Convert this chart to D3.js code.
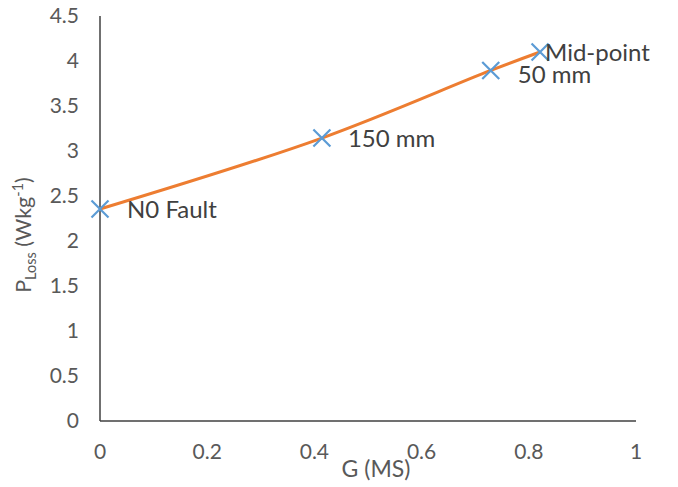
<!DOCTYPE html>
<html><head><meta charset="utf-8">
<script src="https://cdn.jsdelivr.net/npm/d3@7"></script>
<style>body{margin:0;background:#fff}svg{display:block}text{font-family:Lato,"Open Sans",sans-serif}</style>
</head><body>
<script>
const labels = ["N0 Fault", "150 mm", "50 mm", "Mid-point"];
const gValues = [0, 0.414, 0.729, 0.821];
const pLoss = [2.355, 3.144, 3.895, 4.10];
const xTicks = [0, 0.2, 0.4, 0.6, 0.8, 1];
const yTicks = [0, 0.5, 1, 1.5, 2, 2.5, 3, 3.5, 4, 4.5];

const W = 678, H = 487;
const svg = d3.select("body").append("svg").attr("width", W).attr("height", H);
const x = d3.scaleLinear().domain([0, 1]).range([100, 636]);
const y = d3.scaleLinear().domain([0, 4.5]).range([421, 16]);
const txt = "#595959";

// axes lines
svg.append("line").attr("x1", x(0)).attr("x2", x(0)).attr("y1", y(4.5)).attr("y2", y(0)).attr("stroke", "#404040").attr("stroke-width", 1.5);
svg.append("line").attr("x1", x(0)).attr("x2", x(1)).attr("y1", y(0)).attr("y2", y(0)).attr("stroke", "#404040").attr("stroke-width", 1.5);

// tick labels
svg.append("g").selectAll("text").data(yTicks).join("text")
  .attr("x", 79).attr("y", d => y(d)).attr("dy", "0.35em").attr("text-anchor", "end")
  .attr("font-size", 21).attr("fill", txt).text(d => d);
svg.append("g").selectAll("text").data(xTicks).join("text")
  .attr("x", d => x(d)).attr("y", 452).attr("dy", "0.35em").attr("text-anchor", "middle")
  .attr("font-size", 21).attr("fill", txt).text(d => d);

// axis titles
svg.append("text").attr("x", 376).attr("y", 477).attr("text-anchor", "middle")
  .attr("font-size", 23).attr("fill", txt).text("G (MS)");
const yt = svg.append("text").attr("transform", "translate(31,235) rotate(-90)")
  .attr("text-anchor", "middle").attr("font-size", 21.5).attr("fill", txt);
yt.append("tspan").text("P");
yt.append("tspan").attr("font-size", 14.5).attr("dy", 5).text("Loss");
yt.append("tspan").attr("dy", -5).text(" (Wkg");
yt.append("tspan").attr("font-size", 14.5).attr("dy", -8).text("-1");
yt.append("tspan").attr("dy", 8).text(")");

// line
const data = gValues.map((g, i) => ({g, p: pLoss[i], label: labels[i]}));
const line = d3.line().x(d => x(d.g)).y(d => y(d.p)).curve(d3.curveCatmullRom.alpha(0.5));
svg.append("path").datum(data).attr("d", line).attr("fill", "none").attr("stroke", "#ED7D31").attr("stroke-width", 3);

// markers
const s = 8.5;
const m = svg.append("g").selectAll("g").data(data).join("g")
  .attr("transform", d => `translate(${x(d.g)},${y(d.p)})`);
m.append("path").attr("d", `M${-s},${-s}L${s},${s}M${-s},${s}L${s},${-s}`)
  .attr("stroke", "#5B9BD5").attr("stroke-width", 2.2).attr("fill", "none");

// data labels
const off = [[27, 1], [26, 1], [27, 4], [5, 1]];
svg.append("g").selectAll("text").data(data).join("text")
  .attr("x", (d, i) => x(d.g) + off[i][0]).attr("y", (d, i) => y(d.p) + off[i][1])
  .attr("dy", "0.35em").attr("font-size", 24).attr("fill", "#404040").text(d => d.label);
</script>
</body></html>
